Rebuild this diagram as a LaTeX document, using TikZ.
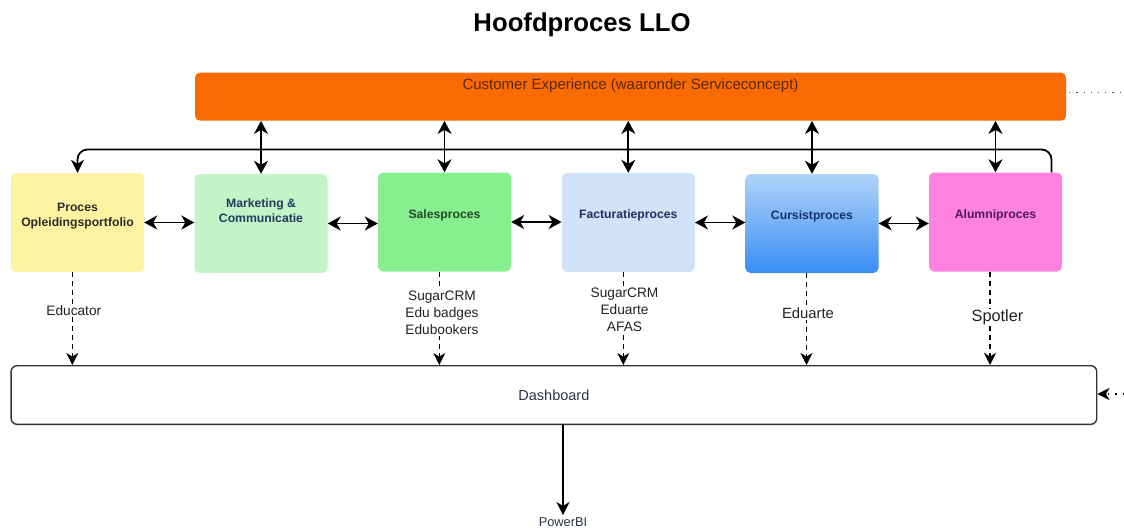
\documentclass[tikz,border=0pt]{standalone}
\usepackage{fontspec}
\setmainfont{Liberation Sans}
\usetikzlibrary{arrows.meta}
\definecolor{ceOrange}{HTML}{F96A02}
\definecolor{ceText}{HTML}{5A2810}
\definecolor{cYellow}{HTML}{FFF3A1}
\definecolor{cMkt}{HTML}{C3F4C8}
\definecolor{cSales}{HTML}{88EF8E}
\definecolor{cFact}{HTML}{D0E3F8}
\definecolor{cCurTop}{HTML}{AFD3F8}
\definecolor{cCurBot}{HTML}{3A8EF5}
\definecolor{cAlum}{HTML}{FF81E0}
\definecolor{tPo}{HTML}{2B2B2B}
\definecolor{tMkt}{HTML}{1F3B5C}
\definecolor{tSales}{HTML}{1E4A2A}
\definecolor{tFact}{HTML}{1E2F5E}
\definecolor{tCur}{HTML}{14306B}
\definecolor{tAlum}{HTML}{4B1A5E}
\definecolor{tDash}{HTML}{2A3345}
\definecolor{tLab}{HTML}{222222}
\begin{document}
\begin{tikzpicture}[x=1pt,y=-1pt,
  proc/.style={rounded corners=5pt, minimum width=133pt, minimum height=99pt, inner sep=0pt},
  boxlbl/.style={font=\fontsize{12.2}{14.8}\selectfont\bfseries, align=center},
  tipA/.style={-{Stealth[length=13pt,width=13pt,inset=4pt]}, line width=1.8pt},
  dbl/.style={{Stealth[length=13pt,width=14pt,inset=4pt]}-{Stealth[length=13pt,width=14pt,inset=4pt]}, line width=1.8pt},
  dsh/.style={-{Stealth[length=12pt,width=12pt,inset=3.5pt]}, line width=1.5pt, dash pattern=on 5pt off 4pt},
  srclbl/.style={fill=white, inner sep=1pt, align=center, text=tLab, font=\fontsize{13.7}{17}\selectfont},
]
\useasboundingbox (0,0) rectangle (1124,528);

\node[font=\fontsize{25.7}{30}\selectfont\bfseries] (title) at (582,25) {Hoofdproces LLO};

\node[proc, fill=ceOrange, minimum width=871pt, minimum height=48pt,
  label={[text=ceText, font=\fontsize{15}{18}\selectfont, yshift=11pt]center:Customer Experience (waaronder Serviceconcept)}] (ce) at (630.5,96.7) {};

\node[proc, fill=cYellow, label={[boxlbl, text=tPo, yshift=6.5pt]center:Proces\\Opleidingsportfolio}] (po) at (77.5,222.5) {};
\node[proc, fill=cMkt, label={[boxlbl, text=tMkt, yshift=13pt]center:Marketing \&\\Communicatie}] (mk) at (261,223.5) {};
\node[proc, fill=cSales, label={[boxlbl, text=tSales, yshift=7pt]center:Salesproces}] (sa) at (444.5,222) {};
\node[proc, fill=cFact, label={[boxlbl, text=tFact, yshift=7.5pt]center:Facturatieproces}] (fa) at (628.3,222.5) {};
\node[proc, top color=cCurTop, bottom color=cCurBot, label={[boxlbl, text=tCur, yshift=7.5pt]center:Cursistproces}] (cu) at (812,223.5) {};
\node[proc, fill=cAlum, label={[boxlbl, text=tAlum, yshift=7pt]center:Alumniproces}] (al) at (995.5,222) {};

\node[draw=black!80, line width=1.4pt, rounded corners=6pt, minimum width=1085.7pt, minimum height=58.6pt, inner sep=0pt,
  text=tDash, font=\fontsize{14.5}{17}\selectfont] (db) at (553.9,395) {Dashboard};

\node[text=tDash, font=\fontsize{12.8}{15}\selectfont, inner sep=2pt] (pbi) at (563,521.7) {PowerBI};

% vertical double arrows to Customer Experience
\draw[dbl] (mk.north |- ce.south) -- (mk.north);
\draw[dbl] (sa.north |- ce.south) -- (sa.north);
\draw[dbl] (fa.north |- ce.south) -- (fa.north);
\draw[dbl] (cu.north |- ce.south) -- (cu.north);
\draw[dbl] (al.north |- ce.south) -- (al.north);

% loop line from Alumniproces back to Proces Opleidingsportfolio
\coordinate (lp) at (0,149.5);
\coordinate (alr) at ([xshift=56pt]al.north);
\draw[tipA, rounded corners=10pt] (alr) -- (alr |- lp) -| (po.north);

% horizontal double arrows between processes
\draw[dbl] (po.east) -- (po.east -| mk.west);
\draw[dbl] (mk.east) -- (mk.east -| sa.west);
\draw[dbl] (sa.east) -- (sa.east -| fa.west);
\draw[dbl] (fa.east) -- (fa.east -| cu.west);
\draw[dbl] (cu.east) -- (cu.east -| al.west);

% dashed arrows to dashboard
\coordinate (e1) at ([xshift=-5.2pt]po.south);
\coordinate (e2) at ([xshift=-5.2pt]sa.south);
\coordinate (e3) at ([xshift=-5pt]fa.south);
\coordinate (e4) at ([xshift=-5.5pt]cu.south);
\coordinate (e5) at ([xshift=-5.5pt]al.south);
\draw[dsh] (e1) -- (e1 |- db.north) node[srclbl, pos=0.413, xshift=1.5pt] {Educator};
\draw[dsh] (e2) -- (e2 |- db.north) node[srclbl, pos=0.44, xshift=2.7pt] {SugarCRM\\Edu badges\\Edubookers};
\draw[dsh] (e3) -- (e3 |- db.north) node[srclbl, pos=0.404, xshift=1.2pt] {SugarCRM\\Eduarte\\AFAS};
\draw[dsh] (e4) -- (e4 |- db.north) node[srclbl, pos=0.44, xshift=1.5pt, font=\fontsize{14.8}{17}\selectfont] {Eduarte};
\draw[dsh] (e5) -- (e5 |- db.north) node[srclbl, pos=0.488, xshift=7.5pt, font=\fontsize{16.3}{19}\selectfont] {Spotler};

% dashboard to PowerBI
\draw[tipA] (db.south -| pbi.north) -- (pbi.north);

% dotted connectors at the right edge
\coordinate (rin) at (1124,394);
\draw[-{Stealth[length=12pt,width=12pt,inset=3.5pt]}, line width=1.4pt, dash pattern=on 1.5pt off 6pt] (rin) -- (rin -| db.east);
\coordinate (rout) at (1124,92.3);
\coordinate (ceR) at ([xshift=3pt]ce.east);
\draw[black!70, line width=1pt, dash pattern=on 1.2pt off 6pt] (ceR |- rout) -- (rout);
\end{tikzpicture}
\end{document}
